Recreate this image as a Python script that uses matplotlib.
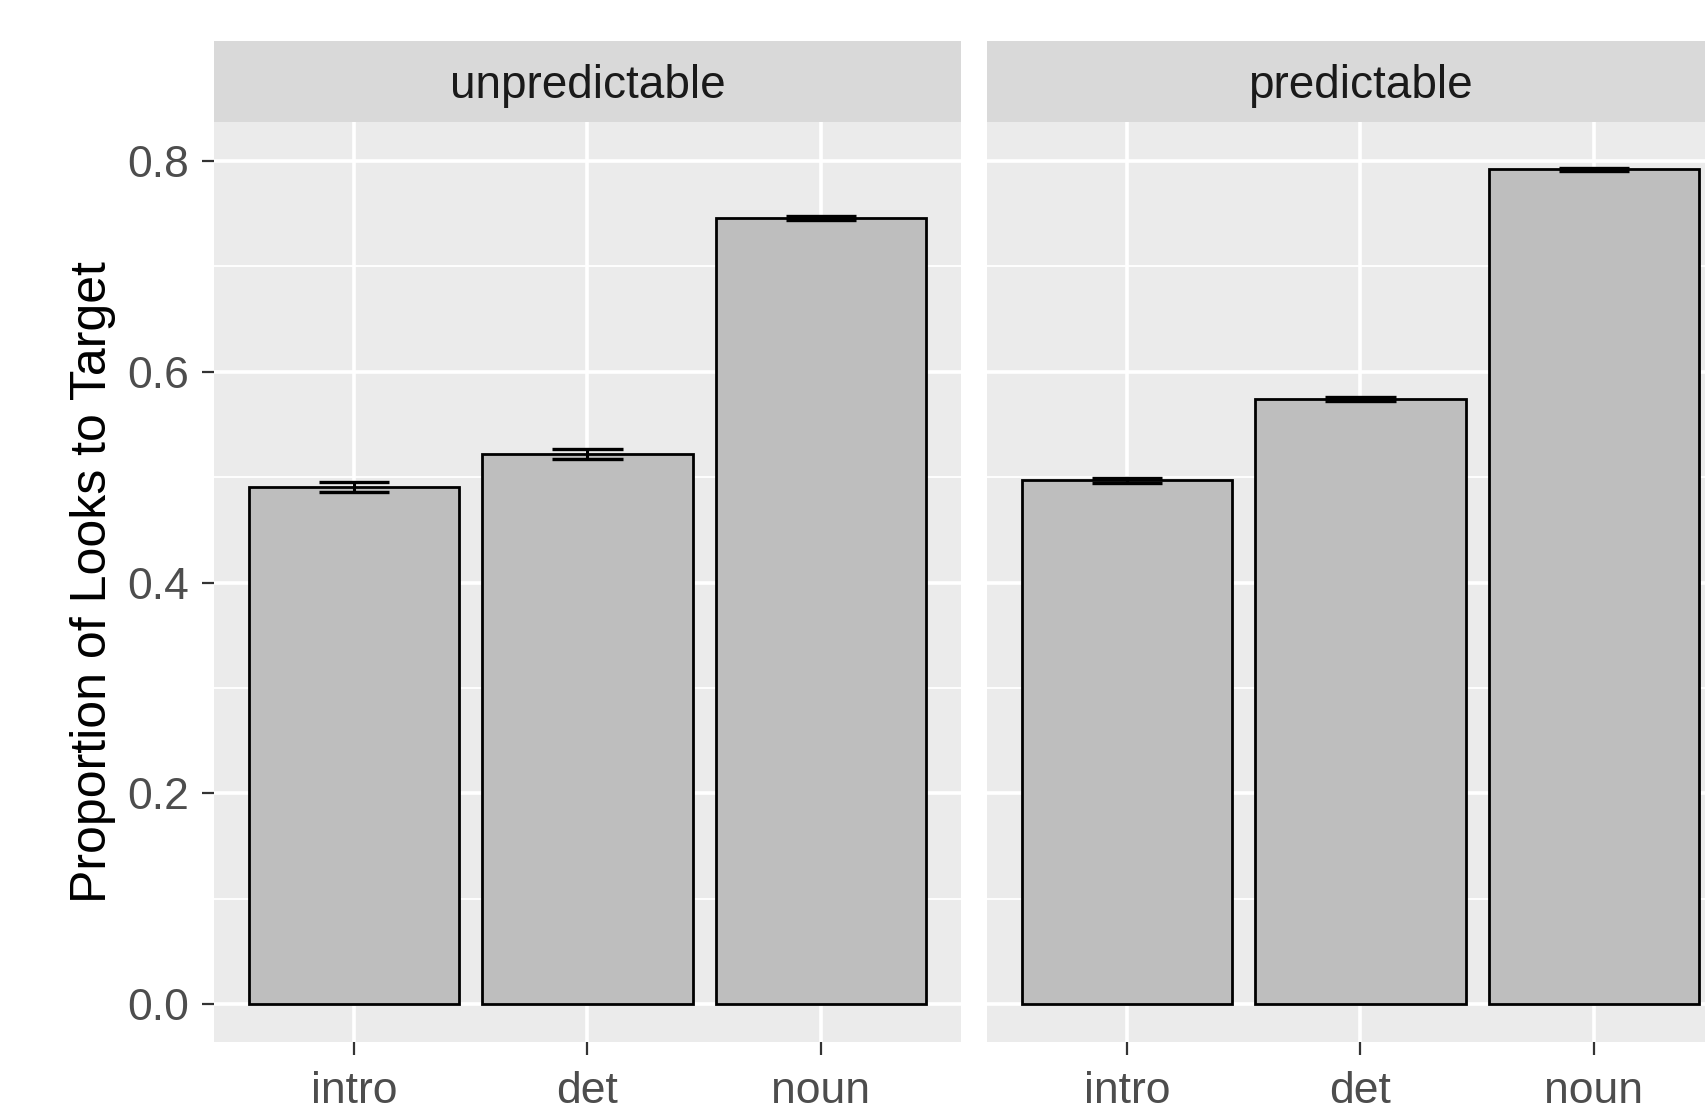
import matplotlib
matplotlib.use("Agg")
import matplotlib.pyplot as plt
import numpy as np

plt.rcParams['font.family'] = ['Liberation Sans', 'DejaVu Sans']

categories = ['intro', 'det', 'noun']
panels = ['unpredictable', 'predictable']
means = {
    'unpredictable': [0.491, 0.522, 0.746],
    'predictable': [0.497, 0.574, 0.792],
}
errs = {
    'unpredictable': [0.0047, 0.0045, 0.0022],
    'predictable': [0.0022, 0.0022, 0.0012],
}
yticks = [0.0, 0.2, 0.4, 0.6, 0.8]
yminor = [0.1, 0.3, 0.5, 0.7]

W, H = 1706, 1104
fig = plt.figure(figsize=(W / 100, H / 100), dpi=100)

panel_bg = '#EBEBEB'
strip_bg = '#D9D9D9'
lefts = [214, 987]
pw = 747
ptop, pbot = 122, 1042
stop = 41

for i, name in enumerate(panels):
    x0 = lefts[i] / W
    ax = fig.add_axes([x0, 1 - pbot / H, pw / W, (pbot - ptop) / H])
    ax.set_facecolor(panel_bg)
    for s in ax.spines.values():
        s.set_visible(False)
    x = np.arange(1, len(categories) + 1)
    # grid
    for yv in yminor:
        ax.axhline(yv, color='white', lw=1.3, zorder=0)
    for yv in yticks:
        ax.axhline(yv, color='white', lw=2.6, zorder=0)
    for xv in x:
        ax.axvline(xv, color='white', lw=2.6, zorder=0)
    ax.bar(x, means[name], width=0.9, color='#BEBEBE', edgecolor='black',
           linewidth=2.0, zorder=2)
    m = np.array(means[name])
    e = np.array(errs[name])
    ax.vlines(x, m - e, m + e, color='black', lw=2.2, zorder=3)
    ax.hlines(m - e, x - 0.15, x + 0.15, color='black', lw=2.4, zorder=3)
    ax.hlines(m + e, x - 0.15, x + 0.15, color='black', lw=2.4, zorder=3)
    ax.set_xlim(0.4, 3.6)
    ax.set_ylim(-0.036, 0.837)
    ax.set_xticks(x)
    ax.set_xticklabels(categories, fontsize=32, color='#4D4D4D')
    ax.tick_params(axis='x', length=9, width=1.6, color='#333333', pad=12)
    if i == 0:
        ax.set_yticks(yticks)
        ax.set_yticklabels(['%.1f' % v for v in yticks], fontsize=32, color='#4D4D4D')
        ax.tick_params(axis='y', length=9, width=1.6, color='#333333', pad=9)
        ax.set_ylabel('Proportion of Looks to Target', fontsize=36, color='black', labelpad=8)
    else:
        ax.set_yticks([])
    # strip
    sax = fig.add_axes([x0, 1 - ptop / H, pw / W, (ptop - stop) / H])
    sax.set_facecolor(strip_bg)
    for s in sax.spines.values():
        s.set_visible(False)
    sax.set_xticks([])
    sax.set_yticks([])
    sax.text(0.5, 0.44, name, ha='center', va='center', fontsize=33,
             color='#1A1A1A', transform=sax.transAxes)

fig.savefig('out.png', dpi=100)
